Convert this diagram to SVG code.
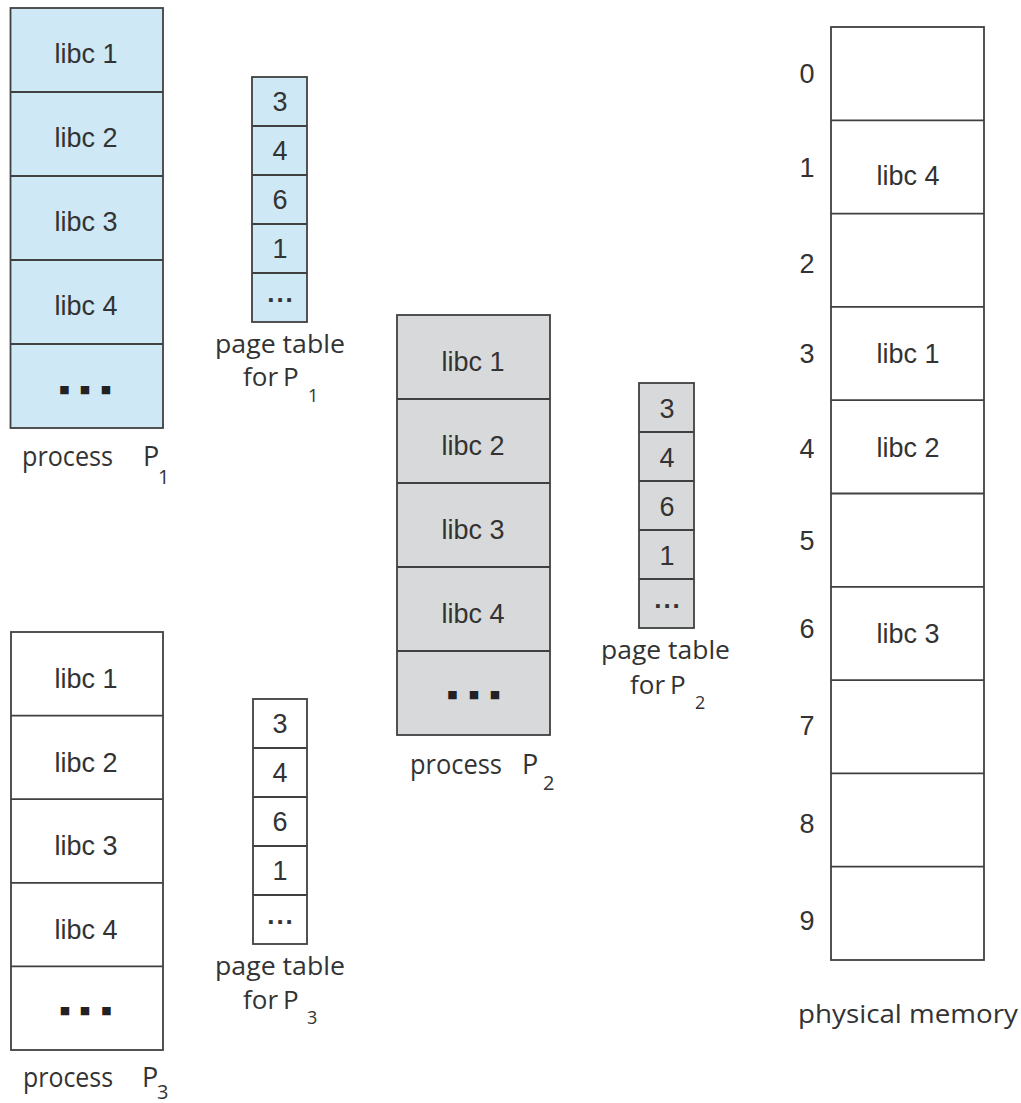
<svg xmlns="http://www.w3.org/2000/svg" width="1021" height="1103" viewBox="0 0 1021 1103">
<style>
  .box { stroke:#404040; stroke-width:1.8; }
  .blue { fill:#cfe8f5; }
  .gray { fill:#d8d9db; }
  .white { fill:#ffffff; }
  .div { stroke:#404040; stroke-width:1.8; fill:none; }
  .lib { font-family:"Liberation Sans", Arial, sans-serif; font-size:27px; fill:#333333; text-anchor:middle; }
  .num { font-family:"Liberation Sans", Arial, sans-serif; font-size:27px; fill:#333333; text-anchor:middle; }
  .cap { font-family:"Open Sans", "Liberation Sans", sans-serif; font-size:26px; fill:#333333; }
  .proc { font-family:"Open Sans", "Liberation Sans", sans-serif; font-size:27px; fill:#333333; }
  .sub { font-family:"Open Sans", "Liberation Sans", sans-serif; font-size:18px; fill:#333333; }
  .subp { font-family:"Open Sans", "Liberation Sans", sans-serif; font-size:20px; fill:#333333; }
  .sq { font-family:"DejaVu Sans", sans-serif; font-size:11px; fill:#222222; text-anchor:middle; }
  .dots { font-family:"Liberation Sans", Arial, sans-serif; font-size:26px; font-weight:bold; fill:#333333; text-anchor:middle; letter-spacing:2px; }
</style>
<rect width="1021" height="1103" fill="#ffffff"/>

<g id="process-p1">
  <rect class="box blue" x="10.5" y="8" width="152.5" height="420"/>
  <path class="div" d="M10.5 92H163M10.5 176H163M10.5 260H163M10.5 344H163"/>
  <text class="lib" x="86" y="63">libc 1</text>
  <text class="lib" x="86" y="147">libc 2</text>
  <text class="lib" x="86" y="231">libc 3</text>
  <text class="lib" x="86" y="315">libc 4</text>
  <text class="sq" y="393"><tspan x="64.5">■</tspan><tspan x="85">■</tspan><tspan x="106">■</tspan></text>
  <text class="proc" y="466"><tspan x="22" textLength="91" lengthAdjust="spacingAndGlyphs">process</tspan><tspan x="143">P</tspan></text>
  <text class="subp" x="158" y="484">1</text>
</g>

<g id="pagetable-p1">
  <rect class="box blue" x="252" y="77" width="55" height="245"/>
  <path class="div" d="M252 126H307M252 175H307M252 224H307M252 273H307"/>
  <text class="num" x="280" y="111">3</text>
  <text class="num" x="280" y="160">4</text>
  <text class="num" x="280" y="209">6</text>
  <text class="num" x="280" y="258">1</text>
  <text class="dots" x="281" y="302">...</text>
  <text class="cap" x="215" y="353" textLength="130" lengthAdjust="spacingAndGlyphs">page table</text>
  <text class="cap" y="386"><tspan x="243">for</tspan><tspan x="283">P</tspan></text>
  <text class="sub" x="308" y="402">1</text>
</g>

<g id="process-p2">
  <rect class="box gray" x="397" y="315" width="153" height="420"/>
  <path class="div" d="M397 399H550M397 483H550M397 567H550M397 651H550"/>
  <text class="lib" x="473" y="371">libc 1</text>
  <text class="lib" x="473" y="455">libc 2</text>
  <text class="lib" x="473" y="539">libc 3</text>
  <text class="lib" x="473" y="623">libc 4</text>
  <text class="sq" y="698"><tspan x="452.5">■</tspan><tspan x="474">■</tspan><tspan x="495">■</tspan></text>
  <text class="proc" y="774"><tspan x="410" textLength="92" lengthAdjust="spacingAndGlyphs">process</tspan><tspan x="522">P</tspan></text>
  <text class="subp" x="543" y="790">2</text>
</g>

<g id="pagetable-p2">
  <rect class="box gray" x="639" y="383" width="55" height="245"/>
  <path class="div" d="M639 432H694M639 481H694M639 530H694M639 579H694"/>
  <text class="num" x="667" y="418">3</text>
  <text class="num" x="667" y="467">4</text>
  <text class="num" x="667" y="516">6</text>
  <text class="num" x="667" y="565">1</text>
  <text class="dots" x="668" y="608">...</text>
  <text class="cap" x="601" y="659" textLength="129" lengthAdjust="spacingAndGlyphs">page table</text>
  <text class="cap" y="694"><tspan x="630">for</tspan><tspan x="670">P</tspan></text>
  <text class="sub" x="695" y="709">2</text>
</g>

<g id="process-p3">
  <rect class="box white" x="11" y="632" width="152" height="418"/>
  <path class="div" d="M11 715.6H163M11 799.2H163M11 882.8H163M11 966.4H163"/>
  <text class="lib" x="86" y="688">libc 1</text>
  <text class="lib" x="86" y="772">libc 2</text>
  <text class="lib" x="86" y="855">libc 3</text>
  <text class="lib" x="86" y="939">libc 4</text>
  <text class="sq" y="1014"><tspan x="65">■</tspan><tspan x="85">■</tspan><tspan x="106.5">■</tspan></text>
  <text class="proc" y="1087"><tspan x="23" textLength="90" lengthAdjust="spacingAndGlyphs">process</tspan><tspan x="142">P</tspan></text>
  <text class="subp" x="157" y="1099">3</text>
</g>

<g id="pagetable-p3">
  <rect class="box white" x="253" y="699" width="54" height="245"/>
  <path class="div" d="M253 748H307M253 797H307M253 846H307M253 895H307"/>
  <text class="num" x="280" y="733">3</text>
  <text class="num" x="280" y="782">4</text>
  <text class="num" x="280" y="831">6</text>
  <text class="num" x="280" y="880">1</text>
  <text class="dots" x="281" y="924">...</text>
  <text class="cap" x="215" y="975" textLength="130" lengthAdjust="spacingAndGlyphs">page table</text>
  <text class="cap" y="1009"><tspan x="243">for</tspan><tspan x="283">P</tspan></text>
  <text class="sub" x="307" y="1024">3</text>
</g>

<g id="physical-memory">
  <rect class="box white" x="831" y="27" width="153" height="933"/>
  <path class="div" d="M831 120.3H984M831 213.6H984M831 306.9H984M831 400.2H984M831 493.5H984M831 586.8H984M831 680.1H984M831 773.4H984M831 866.7H984"/>
  <text class="num" x="807" y="83">0</text>
  <text class="num" x="807" y="177">1</text>
  <text class="num" x="807" y="273">2</text>
  <text class="num" x="807" y="363">3</text>
  <text class="num" x="807" y="458">4</text>
  <text class="num" x="807" y="550">5</text>
  <text class="num" x="807" y="638">6</text>
  <text class="num" x="807" y="735">7</text>
  <text class="num" x="807" y="833">8</text>
  <text class="num" x="807" y="930">9</text>
  <text class="lib" x="908" y="185">libc 4</text>
  <text class="lib" x="908" y="363">libc 1</text>
  <text class="lib" x="908" y="457">libc 2</text>
  <text class="lib" x="908" y="643">libc 3</text>
  <text class="cap" x="798" y="1023" textLength="220" lengthAdjust="spacingAndGlyphs">physical memory</text>
</g>

<g id="connectors"/>
</svg>
